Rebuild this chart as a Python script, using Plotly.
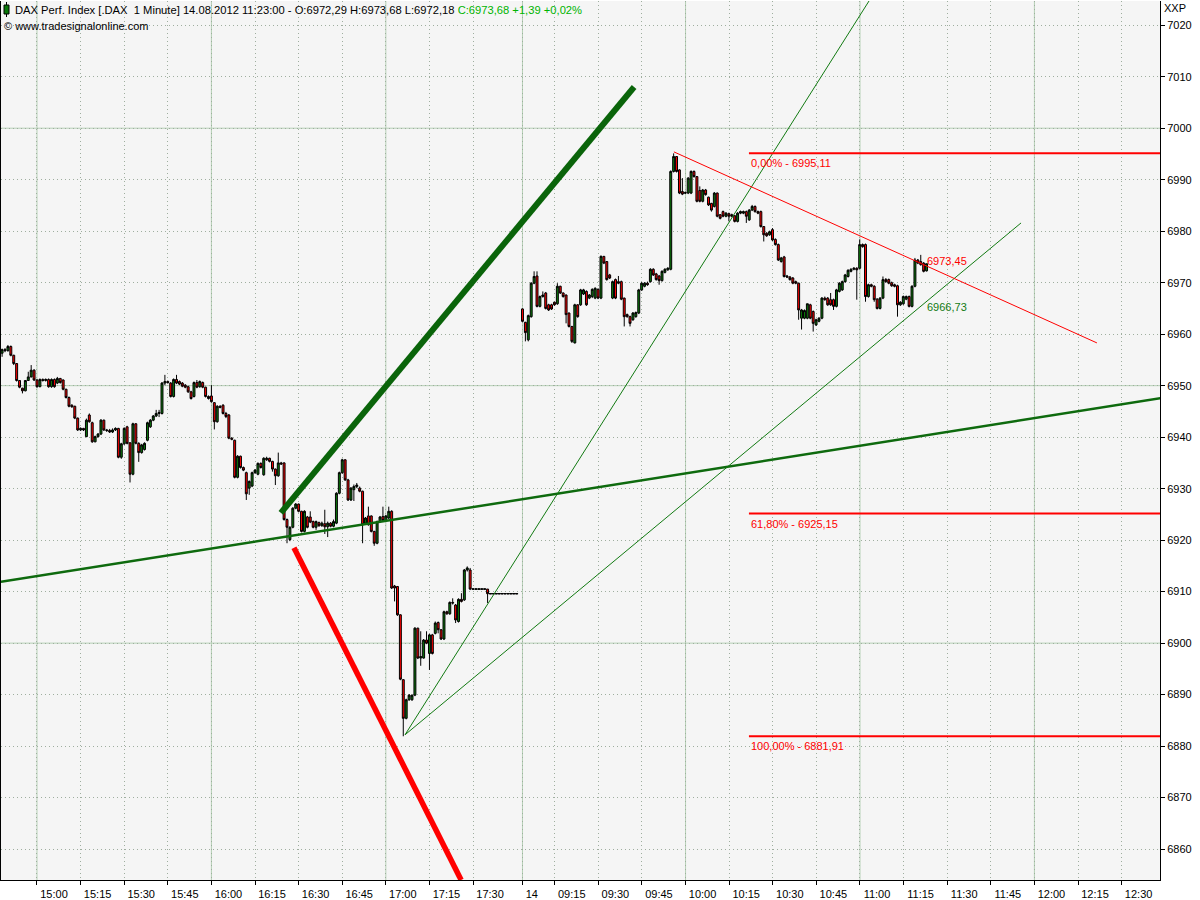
import plotly.graph_objects as go

# ---------------- DATA ----------------
# Day 13.08.2012, 1-minute bars, first bar 14:48 (bar index -12)
open13 = [
    6956.3, 6957.0, 6956.8, 6957.6, 6955.9, 6954.3, 6951.0, 6949.5, 6949.0, 6951.0,
    6951.7, 6953.0, 6951.1, 6949.8, 6951.2, 6951.0, 6951.2, 6949.8, 6951.2, 6950.5,
    6951.4, 6951.1, 6949.3, 6947.7, 6946.2, 6946.0, 6943.7, 6941.4, 6941.7, 6940.1,
    6944.3, 6942.8, 6939.1, 6940.1, 6940.6, 6943.3, 6941.4, 6941.3, 6941.0, 6941.4,
    6941.7, 6936.1, 6938.7, 6942.0, 6938.9, 6932.8, 6942.6, 6938.8, 6937.0, 6937.6,
    6939.4, 6942.0, 6943.3, 6944.1, 6944.6, 6944.6, 6950.5, 6950.8, 6950.5, 6947.9,
    6951.2, 6950.8, 6950.5, 6950.1, 6949.8, 6948.8, 6947.9, 6950.6, 6949.8, 6950.6,
    6949.7, 6947.9, 6948.0, 6946.7, 6943.0, 6946.0, 6946.2, 6944.6, 6944.3, 6939.8,
    6939.4, 6932.2, 6936.3, 6934.1, 6933.1, 6930.1, 6930.5, 6933.1, 6932.8, 6934.9,
    6932.7, 6935.6, 6935.9, 6935.3, 6933.8, 6932.5, 6935.0, 6935.0, 6924.0, 6920.1,
    6922.5, 6926.2, 6927.0, 6925.6, 6921.7, 6924.5, 6924.5, 6923.6, 6922.5, 6923.4,
    6922.8, 6923.2, 6922.6, 6923.3, 6922.7, 6923.3, 6929.1, 6933.1, 6935.6, 6931.7,
    6927.8, 6929.8, 6930.4, 6930.1, 6929.5, 6923.3, 6924.7, 6924.7, 6921.7, 6919.4,
    6923.6, 6924.6, 6923.8, 6924.3, 6925.6, 6911.1, 6911.0, 6905.5, 6892.9, 6885.4,
    6889.0, 6889.0, 6889.9, 6902.9, 6897.1, 6897.1, 6900.6, 6898.0, 6901.6, 6901.9,
    6904.0, 6902.6, 6900.8, 6906.1, 6905.7, 6907.9, 6907.4, 6904.2, 6908.5, 6908.4,
    6914.2, 6914.2, 6910.5, 6910.5, 6910.5, 6910.5, 6910.5, 6910.5, 6909.6, 6909.6,
    6909.6, 6909.6, 6909.6, 6909.6, 6909.6, 6909.6, 6909.6, 6909.6,
]
high13 = [
    6957.2, 6957.3, 6957.9, 6957.8, 6956.0, 6954.4, 6951.1, 6949.6, 6951.1, 6952.7,
    6954.0, 6953.2, 6951.3, 6951.4, 6951.4, 6951.4, 6951.4, 6951.4, 6951.4, 6951.7,
    6951.5, 6951.2, 6949.4, 6947.9, 6946.4, 6946.1, 6943.8, 6941.9, 6941.8, 6943.6,
    6944.6, 6943.0, 6940.3, 6940.8, 6943.5, 6943.4, 6941.6, 6941.6, 6941.7, 6941.9,
    6941.8, 6938.9, 6941.9, 6942.2, 6939.0, 6942.8, 6942.7, 6939.0, 6938.7, 6939.0,
    6943.0, 6943.5, 6944.3, 6945.3, 6945.3, 6950.7, 6952.1, 6951.0, 6950.7, 6951.4,
    6952.1, 6951.0, 6950.7, 6950.3, 6950.0, 6949.0, 6950.8, 6951.1, 6951.0, 6950.8,
    6949.8, 6948.1, 6950.1, 6946.8, 6946.2, 6946.2, 6946.4, 6944.9, 6944.5, 6940.0,
    6939.5, 6936.5, 6936.4, 6934.3, 6933.3, 6931.6, 6933.3, 6933.8, 6935.1, 6935.1,
    6936.1, 6936.2, 6936.0, 6935.4, 6933.9, 6937.0, 6935.2, 6935.1, 6924.2, 6922.7,
    6926.4, 6927.2, 6927.1, 6925.7, 6925.8, 6924.7, 6925.6, 6923.8, 6923.8, 6923.6,
    6923.6, 6925.9, 6923.6, 6923.5, 6924.0, 6929.3, 6933.3, 6935.8, 6935.7, 6931.9,
    6930.3, 6930.8, 6931.1, 6930.4, 6929.6, 6924.5, 6926.5, 6924.8, 6921.8, 6923.8,
    6924.7, 6926.5, 6924.9, 6926.5, 6925.8, 6911.3, 6911.1, 6905.6, 6893.0, 6889.2,
    6890.1, 6890.0, 6903.1, 6903.0, 6902.3, 6900.8, 6902.3, 6901.8, 6901.8, 6904.2,
    6904.2, 6902.7, 6906.3, 6906.3, 6908.1, 6908.7, 6907.6, 6908.7, 6909.7, 6914.4,
    6914.9, 6914.6, 6910.5, 6910.5, 6910.5, 6910.5, 6910.5, 6910.5, 6909.6, 6909.6,
    6909.6, 6909.6, 6909.6, 6909.6, 6909.6, 6909.6, 6909.6, 6909.6,
]
low13 = [
    6955.6, 6956.5, 6956.6, 6955.7, 6954.0, 6950.8, 6949.5, 6948.5, 6948.9, 6950.9,
    6951.6, 6950.9, 6949.6, 6949.7, 6950.8, 6950.8, 6949.6, 6949.6, 6949.6, 6950.3,
    6950.4, 6949.1, 6947.5, 6945.8, 6945.7, 6943.5, 6941.2, 6941.2, 6941.2, 6940.0,
    6942.8, 6938.9, 6939.0, 6939.9, 6940.4, 6941.2, 6941.0, 6940.8, 6940.8, 6941.2,
    6935.9, 6935.8, 6938.5, 6938.6, 6931.2, 6932.6, 6938.6, 6935.2, 6936.8, 6937.4,
    6939.2, 6941.8, 6943.1, 6943.9, 6943.9, 6944.4, 6950.1, 6950.4, 6947.7, 6947.7,
    6950.3, 6950.1, 6949.7, 6949.5, 6948.6, 6947.3, 6947.7, 6949.5, 6949.6, 6949.5,
    6947.7, 6947.3, 6946.7, 6941.5, 6942.8, 6945.6, 6944.4, 6943.7, 6939.6, 6939.4,
    6932.0, 6932.0, 6933.9, 6933.4, 6927.8, 6928.8, 6930.3, 6932.9, 6932.6, 6933.9,
    6932.5, 6935.4, 6935.1, 6933.3, 6930.7, 6932.3, 6934.6, 6923.8, 6919.4, 6919.8,
    6922.3, 6926.0, 6925.4, 6921.5, 6921.5, 6922.3, 6923.3, 6922.3, 6922.0, 6922.6,
    6922.6, 6921.2, 6920.6, 6922.5, 6922.5, 6923.1, 6928.9, 6932.9, 6931.5, 6927.6,
    6927.6, 6927.6, 6930.1, 6929.3, 6919.4, 6923.1, 6922.8, 6921.5, 6918.9, 6919.2,
    6923.4, 6923.6, 6923.6, 6924.1, 6910.5, 6908.1, 6905.3, 6892.8, 6881.91, 6885.2,
    6888.8, 6888.8, 6889.7, 6896.9, 6895.6, 6897.0, 6899.8, 6894.8, 6897.8, 6901.7,
    6901.9, 6900.6, 6900.6, 6905.5, 6905.5, 6907.5, 6903.9, 6904.0, 6907.9, 6908.2,
    6913.9, 6910.3, 6910.5, 6910.5, 6910.5, 6910.5, 6910.5, 6907.8, 6909.6, 6909.6,
    6909.6, 6909.6, 6909.6, 6909.6, 6909.6, 6909.6, 6909.6, 6909.6,
]
close13 = [
    6957.0, 6956.8, 6957.6, 6955.9, 6954.3, 6951.0, 6949.7, 6949.0, 6951.0, 6951.7,
    6953.0, 6951.1, 6949.8, 6951.2, 6951.0, 6951.2, 6949.8, 6951.2, 6949.8, 6951.4,
    6950.6, 6949.3, 6947.7, 6946.0, 6945.9, 6943.7, 6941.4, 6941.7, 6941.4, 6943.3,
    6943.0, 6939.1, 6940.1, 6940.6, 6943.3, 6941.4, 6941.3, 6941.0, 6941.4, 6941.7,
    6936.1, 6938.7, 6941.7, 6938.8, 6932.8, 6942.6, 6938.8, 6937.0, 6938.5, 6938.8,
    6942.8, 6943.3, 6944.1, 6944.6, 6944.8, 6950.5, 6950.8, 6950.6, 6947.9, 6951.2,
    6950.5, 6950.3, 6949.9, 6949.7, 6948.8, 6947.5, 6950.6, 6949.7, 6950.8, 6949.7,
    6947.9, 6947.5, 6946.9, 6943.0, 6946.0, 6945.8, 6944.6, 6944.0, 6939.8, 6939.6,
    6932.2, 6936.3, 6934.1, 6933.6, 6929.0, 6931.4, 6933.1, 6933.6, 6934.9, 6934.1,
    6935.9, 6935.9, 6935.3, 6933.8, 6932.5, 6935.0, 6934.8, 6924.0, 6922.5, 6922.5,
    6926.2, 6927.0, 6925.6, 6921.7, 6925.6, 6922.5, 6923.5, 6922.5, 6923.6, 6922.8,
    6923.3, 6922.6, 6923.3, 6922.7, 6923.6, 6929.1, 6933.1, 6935.6, 6931.7, 6927.8,
    6930.1, 6930.4, 6930.7, 6929.5, 6923.0, 6924.3, 6923.0, 6921.7, 6919.4, 6923.6,
    6924.5, 6923.8, 6924.7, 6925.6, 6910.7, 6910.7, 6905.5, 6893.0, 6885.4, 6889.0,
    6889.9, 6889.9, 6902.9, 6897.1, 6897.4, 6900.6, 6900.0, 6901.6, 6898.0, 6903.9,
    6902.6, 6900.8, 6906.1, 6905.7, 6907.9, 6907.8, 6904.5, 6908.5, 6908.1, 6914.2,
    6914.6, 6910.5, 6910.5, 6910.5, 6910.5, 6910.5, 6910.5, 6909.6, 6909.6, 6909.6,
    6909.6, 6909.6, 6909.6, 6909.6, 6909.6, 6909.6, 6909.6, 6909.6,
]

# Day 14.08.2012, 1-minute bars up to 11:23
open14 = [
    6964.9, 6962.3, 6958.9, 6963.4, 6969.9, 6971.3, 6965.4, 6967.3,
    6968.0, 6965.7, 6965.7, 6966.2, 6965.9, 6969.3, 6968.0, 6967.6, 6964.1, 6961.5,
    6958.3, 6965.7, 6965.7, 6967.8, 6968.3, 6967.0, 6967.3, 6967.0, 6968.7, 6967.0,
    6975.1, 6974.1, 6971.5, 6967.0, 6970.6, 6970.2, 6970.2, 6967.0, 6963.8, 6963.4,
    6962.8, 6963.4, 6964.1, 6968.6, 6969.3, 6969.9, 6970.2, 6972.6, 6971.7, 6971.3,
    6970.4, 6972.0, 6972.5, 6972.6,
    6991.6, 6994.5, 6991.9, 6987.7, 6987.5, 6987.4, 6987.4, 6991.6, 6990.6, 6987.9, 6985.8, 6988.0,
    6986.6, 6985.4, 6984.8, 6987.4, 6983.2,
    6983.8, 6982.9, 6983.4, 6983.2, 6983.0, 6981.9, 6983.5,
    6983.5, 6983.8,
    6982.2, 6984.1, 6984.8, 6983.8, 6983.8, 6980.9, 6979.6, 6979.3, 6980.3, 6978.4,
    6977.4, 6974.1, 6975.0, 6971.3, 6971.1, 6970.9, 6970.2, 6969.9,
    6963.1, 6963.1, 6963.1, 6965.7, 6964.4, 6961.8, 6962.5, 6963.1, 6967.0, 6967.0,
    6966.7, 6966.7, 6965.4, 6968.3, 6968.6, 6970.2, 6971.2, 6972.2, 6972.6, 6972.8,
    6972.8, 6977.4, 6977.4, 6967.3, 6969.6, 6969.3,
    6966.8, 6965.0, 6967.0, 6970.6, 6970.6, 6970.0, 6969.6, 6969.4, 6965.7, 6965.9,
    6966.8, 6967.3, 6965.4, 6969.3, 6974.4, 6974.1, 6973.8, 6972.29,
]
high14 = [
    6965.0, 6962.4, 6963.8, 6970.1, 6972.2, 6972.2, 6967.5, 6968.3,
    6968.2, 6965.9, 6965.9, 6966.3, 6969.9, 6969.4, 6968.1, 6967.7, 6964.2, 6961.6,
    6965.9, 6965.8, 6968.8, 6968.8, 6968.5, 6967.8, 6968.9, 6969.1, 6968.9, 6975.3,
    6975.2, 6974.2, 6971.7, 6970.4, 6970.8, 6971.3, 6970.4, 6967.1, 6964.0, 6963.6,
    6964.3, 6964.4, 6968.8, 6970.1, 6970.1, 6970.2, 6972.8, 6972.8, 6971.9, 6971.5,
    6972.4, 6972.8, 6973.0, 6991.8,
    6995.11, 6994.6, 6992.0, 6990.3, 6987.7, 6990.5, 6991.8, 6991.8, 6990.7, 6988.7, 6988.2, 6988.2,
    6986.7, 6985.5, 6987.6, 6987.5, 6983.3,
    6984.0, 6983.7, 6983.6, 6983.4, 6983.1, 6983.7, 6984.0,
    6984.0, 6984.0,
    6984.3, 6985.1, 6985.0, 6984.0, 6984.0, 6981.0, 6979.8, 6980.1, 6980.6, 6978.6,
    6977.6, 6975.0, 6975.2, 6971.5, 6971.3, 6971.1, 6970.4, 6970.0,
    6964.9, 6964.8, 6965.9, 6965.9, 6964.6, 6963.0, 6963.3, 6967.2, 6967.3, 6967.2,
    6968.0, 6966.9, 6968.8, 6970.1, 6970.4, 6971.7, 6972.6, 6972.8, 6973.0, 6973.0,
    6978.4, 6977.6, 6977.6, 6969.8, 6969.8, 6969.5,
    6967.0, 6967.2, 6971.2, 6970.9, 6970.8, 6970.2, 6969.8, 6969.6, 6966.4, 6967.5,
    6967.5, 6967.5, 6969.5, 6974.8, 6974.6, 6975.4, 6974.0, 6973.68,
]
low14 = [
    6962.3, 6958.6, 6958.6, 6963.2, 6969.7, 6965.2, 6965.2, 6967.1,
    6964.8, 6964.5, 6964.7, 6965.5, 6965.7, 6967.8, 6967.1, 6962.1, 6961.3, 6958.3,
    6958.2, 6963.2, 6965.5, 6967.6, 6965.5, 6966.8, 6967.0, 6966.8, 6966.8, 6966.8,
    6973.6, 6970.4, 6970.7, 6966.8, 6966.8, 6969.7, 6966.6, 6961.5, 6963.2, 6961.5,
    6962.6, 6963.2, 6963.9, 6968.4, 6969.1, 6969.4, 6970.0, 6971.3, 6970.4, 6969.6,
    6970.2, 6971.8, 6972.3, 6972.4,
    6991.4, 6991.4, 6987.2, 6987.0, 6987.2, 6987.2, 6987.2, 6990.4, 6985.6, 6985.6, 6985.6, 6986.9,
    6984.9, 6983.8, 6984.6, 6982.7, 6982.3,
    6982.7, 6982.7, 6981.9, 6982.7, 6981.7, 6981.7, 6983.3,
    6983.3, 6981.6,
    6982.0, 6983.9, 6983.6, 6983.3, 6980.7, 6978.0, 6978.9, 6979.1, 6978.1, 6977.2,
    6974.2, 6973.9, 6971.0, 6970.9, 6970.4, 6969.7, 6969.7, 6962.8,
    6960.9, 6962.9, 6962.9, 6962.9, 6960.5, 6961.6, 6962.3, 6962.9, 6966.5, 6965.5,
    6965.5, 6964.7, 6965.2, 6968.1, 6968.4, 6970.0, 6971.0, 6972.0, 6972.4, 6966.7,
    6972.6, 6976.8, 6966.3, 6967.1, 6969.1, 6966.3,
    6964.8, 6964.8, 6966.8, 6970.0, 6969.7, 6969.2, 6969.1, 6963.4, 6965.5, 6965.7,
    6966.6, 6965.2, 6965.2, 6969.1, 6973.6, 6973.3, 6972.0, 6972.18,
]
close14 = [
    6962.5, 6960.3, 6963.6, 6969.9, 6971.2, 6965.4, 6967.3, 6967.6,
    6965.0, 6964.7, 6964.9, 6965.7, 6969.3, 6968.0, 6967.3, 6963.8, 6961.5, 6958.6,
    6965.7, 6963.4, 6968.6, 6968.6, 6965.7, 6967.6, 6968.7, 6968.9, 6967.0, 6975.1,
    6973.8, 6970.6, 6970.9, 6970.2, 6967.0, 6969.9, 6966.8, 6963.4, 6963.4, 6962.1,
    6964.1, 6964.2, 6968.6, 6969.9, 6969.9, 6969.6, 6972.6, 6971.5, 6970.6, 6970.4,
    6972.2, 6972.6, 6972.8, 6991.6,
    6994.5, 6991.6, 6987.4, 6987.2, 6987.4, 6990.3, 6991.6, 6990.6, 6985.8, 6985.8, 6988.0, 6987.1,
    6985.1, 6984.1, 6987.4, 6982.9, 6982.5,
    6982.9, 6983.5, 6982.9, 6982.9, 6981.9, 6983.5, 6983.8,
    6983.8, 6982.9,
    6984.1, 6984.8, 6983.8, 6983.5, 6980.9, 6979.3, 6979.1, 6979.9, 6978.3, 6977.4,
    6974.4, 6974.8, 6971.2, 6971.1, 6970.6, 6969.9, 6969.9, 6964.7,
    6964.7, 6964.6, 6965.9, 6963.1, 6962.1, 6962.8, 6963.1, 6967.0, 6966.7, 6965.7,
    6965.7, 6965.4, 6968.6, 6969.9, 6970.2, 6971.5, 6972.4, 6972.6, 6972.8, 6972.5,
    6977.4, 6977.0, 6967.3, 6969.6, 6969.3, 6966.7,
    6965.0, 6967.0, 6970.6, 6970.2, 6969.9, 6969.4, 6969.3, 6965.7, 6966.2, 6967.3,
    6967.3, 6965.4, 6969.3, 6974.4, 6973.8, 6973.5, 6972.2, 6973.68,
]

# time-axis labels
time_labels13 = ['15:00', '15:15', '15:30', '15:45', '16:00', '16:15', '16:30',
                 '16:45', '17:00', '17:15', '17:30']
day_label14 = '14'
time_labels14 = ['09:15', '09:30', '09:45', '10:00', '10:15', '10:30', '10:45',
                 '11:00', '11:15', '11:30', '11:45', '12:00', '12:15', '12:30']

# Fibonacci retracement levels
fib_levels = [6995.11, 6925.15, 6881.91]
fib_texts = ['0,00% - 6995,11', '61,80% - 6925,15', '100,00% - 6881,91']

# Hand-drawn trend lines: (bar0, price0, bar1, price1)
thick_up = (83.9, 6925.3, 205.4, 7008.0)
thick_down = (88.4, 6918.5, 145.9, 6854.0)
long_support = (-12.4, 6911.9, 386.7, 6947.6)
fan_steep = (126.6, 6882.2, 286.2, 7024.7)
fan_flat = (126.6, 6882.2, 338.5, 6981.6)
down_trend = (219.1, 6995.4, 364.6, 6958.3)

# ---------------- FIGURE ----------------
FIRST13 = -12           # bar index of first bar of 13.08 (15:00 = 0)
FIRST14 = 167           # bar index of first bar of 14.08
BASE14 = 163.1          # position of 09:00 on 14.08

x13 = [FIRST13 + i for i in range(len(close13))]
x14 = [FIRST14 + i for i in range(len(close14))]

GREEN = '#0b7a0b'
RED = '#ff0000'

fig = go.Figure()
fig.add_trace(go.Candlestick(
    x=x13 + x14,
    open=open13 + open14, high=high13 + high14,
    low=low13 + low14, close=close13 + close14,
    increasing=dict(line=dict(color='black', width=1), fillcolor=GREEN),
    decreasing=dict(line=dict(color='black', width=1), fillcolor=RED),
    whiskerwidth=0, showlegend=False, hoverinfo='skip',
))

# flat (no-trade) bars are drawn as a continuous thin black dash
all_x = x13 + x14
all_o, all_h = open13 + open14, high13 + high14
all_l, all_c = low13 + low14, close13 + close14
flat_x, flat_y = [], []
prev = None
for xi, o, h, l, c in zip(all_x, all_o, all_h, all_l, all_c):
    if h == l:
        if prev is not None and prev != xi - 1:
            flat_x.append(None)
            flat_y.append(None)
        flat_x += [xi - 0.5, xi + 0.5]
        flat_y += [c, c]
        prev = xi
fig.add_trace(go.Scatter(x=flat_x, y=flat_y, mode='lines',
                         line=dict(color='black', width=1), connectgaps=False,
                         showlegend=False, hoverinfo='skip'))

tick_pos = [15 * i for i in range(len(time_labels13))] + [FIRST14] + \
           [BASE14 + 15 * (i + 1) for i in range(len(time_labels14))]
tick_txt = time_labels13 + [day_label14 + '\u00a0' * 5] + time_labels14

X0, X1 = -12.38, 386.3
Y0, Y1 = 6854.0, 7024.7

GRID_SOLID = '#b5cfb5'
GRID_DOT = '#9fae9f'

shapes = []
solid_x = [0, 60, 120, FIRST14, BASE14 + 60, BASE14 + 120, BASE14 + 180]
for sx in solid_x:
    shapes.append(dict(type='line', xref='x', yref='paper', x0=sx, x1=sx, y0=0, y1=1,
                       line=dict(color=GRID_SOLID, width=1), layer='between'))
for sy in [6900, 6950, 7000]:
    shapes.append(dict(type='line', xref='paper', yref='y', x0=0, x1=1, y0=sy, y1=sy,
                       line=dict(color=GRID_SOLID, width=1), layer='between'))


def seg(t, color, width):
    return dict(type='line', xref='x', yref='y', x0=t[0], y0=t[1], x1=t[2], y1=t[3],
                line=dict(color=color, width=width), layer='above')


shapes.append(seg(long_support, '#0e6a0e', 2.5))
shapes.append(seg(fan_steep, '#127a12', 1))
shapes.append(seg(fan_flat, '#127a12', 1))
shapes.append(seg(down_trend, RED, 1))
shapes.append(seg(thick_up, '#0a640a', 6))
shapes.append(seg(thick_down, RED, 5.5))

FIB_X = 244.9
for lv in fib_levels:
    shapes.append(dict(type='line', xref='x', yref='y', x0=FIB_X, x1=X1 + 5, y0=lv, y1=lv,
                       line=dict(color=RED, width=2), layer='above'))


def fx(px):
    return (px - 1) / 1159


def fy(py):
    return (880 - py) / 879


# header icon (small green candle)
shapes.append(dict(type='line', xref='paper', yref='paper', x0=fx(6.5), x1=fx(6.5),
                   y0=fy(17), y1=fy(2), line=dict(color='black', width=1)))
shapes.append(dict(type='rect', xref='paper', yref='paper', x0=fx(4), x1=fx(9),
                   y0=fy(14), y1=fy(5), fillcolor=GREEN, line=dict(color='black', width=1)))

ann = []
for lv, tx in zip(fib_levels, fib_texts):
    ann.append(dict(x=FIB_X, y=lv, xref='x', yref='y', text=tx, showarrow=False,
                    xanchor='left', yanchor='top', yshift=-2,
                    font=dict(color=RED, size=11)))
ann.append(dict(x=305.6, y=6974.2, xref='x', yref='y', text='6973,45', showarrow=False,
                xanchor='left', yanchor='middle', font=dict(color=RED, size=11)))
ann.append(dict(x=305.6, y=6965.3, xref='x', yref='y', text='6966,73', showarrow=False,
                xanchor='left', yanchor='middle', font=dict(color='#127a12', size=11)))
ann.append(dict(x=fx(13), y=fy(10), xref='paper', yref='paper', showarrow=False,
                xanchor='left', yanchor='middle', font=dict(size=11.2, color='black'),
                text='DAX Perf. Index [.DAX\u00a0\u00a01 Minute] 14.08.2012 11:23:00 - '
                     'O:6972,29 H:6973,68 L:6972,18 '
                     '<span style="color:#00b400">C:6973,68 +1,39 +0,02%</span>'))
ann.append(dict(x=fx(2), y=fy(26), xref='paper', yref='paper', showarrow=False,
                xanchor='left', yanchor='middle', font=dict(size=11, color='black'),
                text='© www.tradesignalonline.com'))
ann.append(dict(x=fx(1162), y=fy(8), xref='paper', yref='paper', showarrow=False,
                xanchor='left', yanchor='middle', font=dict(size=11, color='black'),
                text='XXP'))

fig.update_layout(
    width=1200, height=900,
    margin=dict(l=1, r=40, t=1, b=20, autoexpand=False),
    paper_bgcolor='white', plot_bgcolor='#f5f5f5',
    font=dict(family='Liberation Sans, Arial, sans-serif', size=11, color='black'),
    showlegend=False, hovermode=False, boxgap=0.05,
    shapes=shapes, annotations=ann,
    xaxis=dict(range=[X0, X1], type='linear', rangeslider=dict(visible=False),
               tickmode='array', tickvals=tick_pos, ticktext=tick_txt,
               ticks='outside', ticklen=4, tickcolor='black', ticklabelshift=17,
               showgrid=True, gridcolor=GRID_DOT, griddash='1px,3px', gridwidth=1,
               showline=True, linecolor='black', linewidth=1, mirror=False,
               zeroline=False, automargin=False, fixedrange=True,
               tickfont=dict(size=11)),
    yaxis=dict(range=[Y0, Y1], side='right', tickmode='linear', tick0=6860, dtick=10,
               ticks='outside', ticklen=4, tickcolor='black',
               showgrid=True, gridcolor=GRID_DOT, griddash='1px,3px', gridwidth=1,
               showline=True, linecolor='black', linewidth=1, mirror=True,
               zeroline=False, automargin=False, fixedrange=True,
               tickfont=dict(size=11)),
)

fig.write_html('out.html',
               config={'displayModeBar': False, 'staticPlot': True},
               post_script="document.body.style.margin='0';"
                           "document.body.style.overflow='hidden';")
